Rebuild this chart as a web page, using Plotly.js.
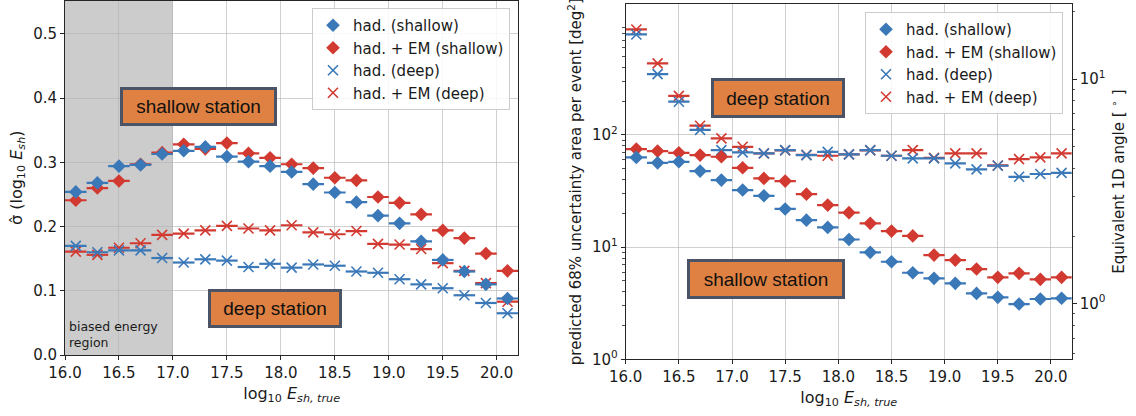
<!DOCTYPE html>
<html><head><meta charset="utf-8">
<script src="https://cdn.plot.ly/plotly-3.0.1.min.js"></script>
<style>html,body{margin:0;padding:0;background:#fff}#chart{width:1136px;height:416px}</style>
</head><body><div id="chart"></div>
<script>
// ---- data ----
const energyBins = [16.1,16.3,16.5,16.7,16.9,17.1,17.3,17.5,17.7,17.9,18.1,18.3,18.5,18.7,18.9,19.1,19.3,19.5,19.7,19.9,20.1];
const binHalfWidth = 0.1;
// left panel: resolution sigma(log10 E_sh)
const sigmaHadShallow   = [0.254,0.268,0.294,0.296,0.313,0.318,0.324,0.309,0.301,0.294,0.285,0.266,0.253,0.238,0.217,0.205,0.177,0.148,0.130,0.110,0.088];
const sigmaHadEMShallow = [0.241,0.260,0.271,0.297,0.315,0.328,0.321,0.330,0.314,0.307,0.297,0.291,0.276,0.272,0.246,0.237,0.219,0.194,0.182,0.158,0.131];
const sigmaHadDeep      = [0.170,0.160,0.163,0.163,0.151,0.144,0.149,0.147,0.137,0.142,0.136,0.141,0.139,0.130,0.128,0.118,0.110,0.104,0.093,0.081,0.065];
const sigmaHadEMDeep    = [0.161,0.156,0.167,0.174,0.187,0.189,0.194,0.201,0.197,0.194,0.202,0.191,0.188,0.193,0.173,0.172,0.165,0.143,0.131,0.112,0.083];
// right panel: 68% uncertainty area [deg^2]
const areaHadShallow    = [63.1,56.5,57.7,47.7,39.6,32.3,28.7,21.9,17.4,15.0,11.7,8.99,7.41,5.91,5.27,4.76,3.87,3.57,3.11,3.45,3.50];
const areaHadEMShallow  = [74.9,71.9,69.4,66.2,64.0,51.0,41.0,38.8,29.7,23.7,20.3,16.3,13.9,12.6,8.5,7.67,6.38,5.38,5.84,5.16,5.38];
const areaHadDeep       = [788,349,198,111,73.3,70.0,68.5,73.3,66.2,70.8,67.2,73.3,65.3,61.9,61.9,55.8,49.4,53.2,42.4,44.9,46.0];
const areaHadEMDeep     = [873,435,223,121,93.3,78.5,68.5,73.0,66.5,65.3,67.2,73.0,65.3,73.3,62.5,68.6,68.6,53.5,61.0,63.1,68.6];
const seriesNames = ['had. (shallow)','had. + EM (shallow)','had. (deep)','had. + EM (deep)'];
const biasedRegion = [16.0, 17.0];
const xTickVals = [16.0,16.5,17.0,17.5,18.0,18.5,19.0,19.5,20.0];
const xTickText = ['16.0','16.5','17.0','17.5','18.0','18.5','19.0','19.5','20.0'];
const sigmaTickVals = [0.0,0.1,0.2,0.3,0.4,0.5];
const sigmaTickText = ['0.0','0.1','0.2','0.3','0.4','0.5'];
const areaTickVals = [1,10,100];
const areaTickText = ['10<sup>0</sup>','10<sup>1</sup>','10<sup>2</sup>'];
const areaMinorVals = [2,3,4,5,6,7,8,9,20,30,40,50,60,70,80,90,200,300,400,500,600,700,800,900];
const angleTickVals = [1,10];
const angleTickText = ['10<sup>0</sup>','10<sup>1</sup>'];
const angleMinorVals = [0.6,0.7,0.8,0.9,2,3,4,5,6,7,8,9,20];

// ---- style ----
const W = 1136, H = 416;
const BLUE = '#3a78b8', RED = '#d23a31';
const FONT = 'DejaVu Sans, sans-serif';
const TXT = '#1a1a1a';
const px = v => v / W;
const py = v => 1 - v / H;

function trace(ys, color, deep, name, xa, ya, legend, rank) {
  const marker = deep
    ? {symbol:'x-thin-open', size:10, color:color, line:{color:color, width:1.6}}
    : {symbol:'diamond', size:10.5, color:color, line:{width:0}};
  return {
    type:'scatter', mode:'markers', x:energyBins, y:ys, name:name,
    xaxis:xa, yaxis:ya, legend:legend, legendrank:rank,
    marker:marker,
    error_x:{type:'constant', value:binHalfWidth, width:0, thickness:2.2, color:color},
    hoverinfo:'x+y'
  };
}

// draw order: red deep, blue deep, red shallow, blue shallow
const data = [
  trace(sigmaHadEMDeep,    RED,  true,  seriesNames[3], 'x',  'y',  'legend', 4),
  trace(sigmaHadDeep,      BLUE, true,  seriesNames[2], 'x',  'y',  'legend', 3),
  trace(sigmaHadEMShallow, RED,  false, seriesNames[1], 'x',  'y',  'legend', 2),
  trace(sigmaHadShallow,   BLUE, false, seriesNames[0], 'x',  'y',  'legend', 1),
  trace(areaHadEMDeep,     RED,  true,  seriesNames[3], 'x2', 'y2', 'legend2', 4),
  trace(areaHadDeep,       BLUE, true,  seriesNames[2], 'x2', 'y2', 'legend2', 3),
  trace(areaHadEMShallow,  RED,  false, seriesNames[1], 'x2', 'y2', 'legend2', 2),
  trace(areaHadShallow,    BLUE, false, seriesNames[0], 'x2', 'y2', 'legend2', 1),
  // empty trace so the secondary (angle) axis is registered and drawn
  {type:'scatter', mode:'markers', x:[], y:[], xaxis:'x2', yaxis:'y3', showlegend:false, hoverinfo:'skip'}
];

const axisCommon = {
  showline:true, linecolor:'#262626', linewidth:1, mirror:true,
  ticks:'outside', ticklen:4, tickwidth:1, tickcolor:'#262626',
  showgrid:true, gridcolor:'rgba(176,176,176,0.6)', gridwidth:1,
  zeroline:false, tickfont:{family:FONT, size:15, color:TXT},
  tickmode:'array'
};
const titleFont = {family:FONT, size:16, color:TXT};
const titleFontR = {family:FONT, size:15, color:TXT};
const xTitle = 'log<sub>10</sub> <i>E</i><sub><i>sh, true</i></sub>';

const logArea = [0, 3.168];
const LOGPI = Math.log10(Math.PI);
const logAngle = [(logArea[0]-LOGPI)/2, (logArea[1]-LOGPI)/2];

const legendCommon = {
  bgcolor:'rgba(255,255,255,0.85)', bordercolor:'#cccccc', borderwidth:1,
  font:{family:FONT, size:15, color:TXT},
  xanchor:'right', yanchor:'top', traceorder:'normal', itemwidth:30
};

const boxStyle = {
  showarrow:false, xref:'paper', yref:'paper', xanchor:'center', yanchor:'middle',
  bgcolor:'#df8142', bordercolor:'#4a5466', borderwidth:3, borderpad:0,
  font:{family:'Liberation Sans, Arial, sans-serif', size:19, color:'#111'}
};

const layout = {
  width:W, height:H, margin:{l:0,r:0,t:0,b:0},
  paper_bgcolor:'#ffffff', plot_bgcolor:'#ffffff', showlegend:true,
  xaxis: Object.assign({}, axisCommon, {
    domain:[px(65), px(518.3)], range:[16.0, 20.2], anchor:'y',
    tickvals:xTickVals, ticktext:xTickText,
    title:{text:xTitle, font:titleFont, standoff:6}
  }),
  yaxis: Object.assign({}, axisCommon, {
    domain:[py(355), py(0.5)], range:[0, 0.552], anchor:'x',
    tickvals:sigmaTickVals, ticktext:sigmaTickText,
    title:{text:'σ̂ (log<sub>10</sub> <i>E</i><sub><i>sh</i></sub>)', font:titleFont, standoff:6}
  }),
  xaxis2: Object.assign({}, axisCommon, {
    domain:[px(625.7), px(1071.7)], range:[16.0, 20.195], anchor:'y2',
    tickvals:xTickVals, ticktext:xTickText,
    title:{text:xTitle, font:titleFont, standoff:6}
  }),
  yaxis2: Object.assign({}, axisCommon, {
    type:'log', domain:[py(359.3), py(4)], range:logArea, anchor:'x2',
    tickvals:areaTickVals, ticktext:areaTickText, mirror:false,
    minor:{tickmode:'array', tickvals:areaMinorVals, ticks:'outside', ticklen:2.5, tickwidth:0.8, tickcolor:'#262626', showgrid:false},
    title:{text:'predicted 68% uncertainty area per event [deg<sup>2</sup>]', font:titleFontR, standoff:6}
  }),
  yaxis3: Object.assign({}, axisCommon, {
    type:'log', overlaying:'y2', side:'right', anchor:'x2', range:logAngle,
    showgrid:false, mirror:false,
    tickvals:angleTickVals, ticktext:angleTickText,
    minor:{tickmode:'array', tickvals:angleMinorVals, ticks:'outside', ticklen:2.5, tickwidth:0.8, tickcolor:'#262626', showgrid:false},
    title:{text:'Equivalent 1D angle [ <sup>∘</sup> ]', font:titleFontR, standoff:9}
  }),
  legend: Object.assign({}, legendCommon, {x:px(510), y:py(8)}),
  legend2: Object.assign({}, legendCommon, {x:px(1063), y:py(12)}),
  shapes:[
    {type:'rect', xref:'x', yref:'paper', x0:biasedRegion[0], x1:biasedRegion[1],
     y0:py(355), y1:py(0.5), fillcolor:'#cccccc', line:{width:0}, layer:'below'}
  ],
  annotations:[
    Object.assign({}, boxStyle, {text:'shallow station', x:px(198.5), y:py(106.5), width:151, height:33}),
    Object.assign({}, boxStyle, {text:'deep station', x:px(275), y:py(308.5), width:128, height:33}),
    Object.assign({}, boxStyle, {text:'deep station', x:px(778), y:py(98), width:128, height:34}),
    Object.assign({}, boxStyle, {text:'shallow station', x:px(766), y:py(279), width:152, height:34}),
    {text:'biased energy<br>region', xref:'paper', yref:'paper', x:px(66.5), y:py(352),
     xanchor:'left', yanchor:'bottom', align:'left', showarrow:false,
     font:{family:FONT, size:12.5, color:TXT}}
  ]
};

Plotly.newPlot('chart', data, layout, {staticPlot:true, displayModeBar:false});
</script>
</body></html>
